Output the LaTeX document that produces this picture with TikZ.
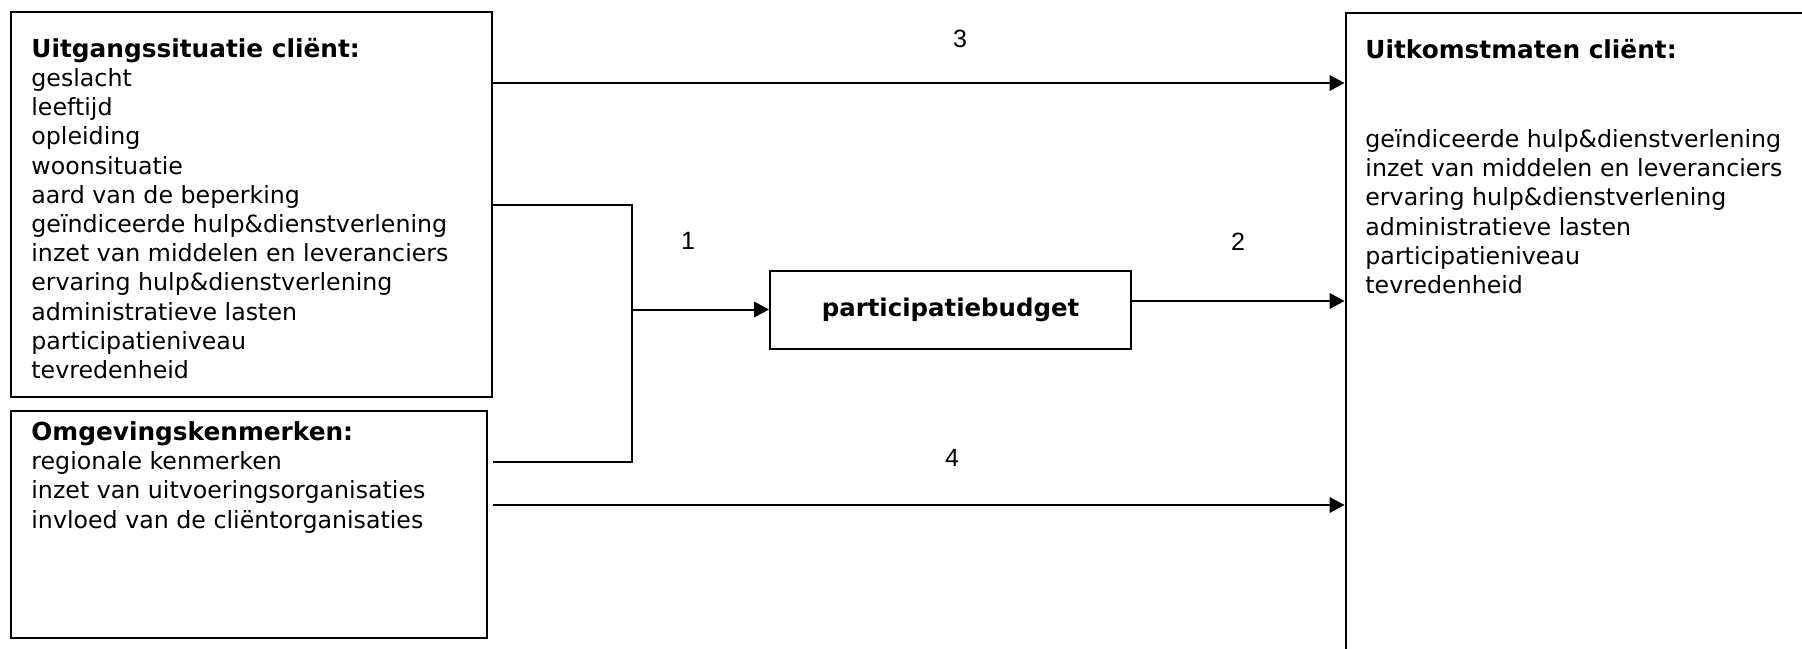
\documentclass[tikz,border=0pt]{standalone}
\usepackage{fontspec}
\setmainfont{DejaVu Sans}
\newfontfamily\numfont{Liberation Sans}
\usetikzlibrary{fit,arrows.meta}
\begin{document}
\begin{tikzpicture}[x=0.5pt,y=-0.5pt,
  box/.style={draw,line width=1pt,inner sep=0pt,rectangle},
  body/.style={anchor=base west,inner sep=0pt,align=left,font=\fontsize{11.85pt}{14.6pt}\selectfont},
  head/.style={anchor=base west,inner sep=0pt,font=\fontsize{12.4pt}{14.6pt}\selectfont\bfseries},
  num/.style={inner sep=0pt,font=\numfont\fontsize{12.5pt}{15pt}\selectfont},
  conn/.style={line width=1pt},
  arr/.style={conn,-{Triangle[length=7.5pt,width=7.8pt]}}]
\path[use as bounding box,clip] (0,0) rectangle (1802,648);
% boxes
\node[box,fit={(11,12) (492,397)}] (b1) {};
\node[box,fit={(11,411) (487,638)}] (b2) {};
\node[box,minimum width=180.5pt,minimum height=39pt,font=\bfseries\fontsize{12.2pt}{14pt}\selectfont] (mid) at (950.5,309.5) {participatiebudget};
\node[box,anchor=north west,minimum width=300pt,minimum height=360pt] (rb) at (1344.5,12) {};
% texts (base anchor = last line's baseline)
\node[head] (t1h) at (31,57.3) {Uitgangssituatie cliënt:};
\node[body] (t1) at (31,378.5) {geslacht\\leeftijd\\opleiding\\woonsituatie\\aard van de beperking\\geïndiceerde hulp\&dienstverlening\\inzet van middelen en leveranciers\\ervaring hulp\&dienstverlening\\administratieve lasten\\participatieniveau\\tevredenheid};
\node[head] (t2h) at (31,440.5) {Omgevingskenmerken:};
\node[body] (t2) at (31,528.1) {regionale kenmerken\\inzet van uitvoeringsorganisaties\\invloed van de cliëntorganisaties};
\node[head] (t3h) at (1365,58) {Uitkomstmaten cliënt:};
\node[body] (t3) at (1365,293.5) {geïndiceerde hulp\&dienstverlening\\inzet van middelen en leveranciers\\ervaring hulp\&dienstverlening\\administratieve lasten\\participatieniveau\\tevredenheid};
% row coordinates
\coordinate (y3) at (0,83);
\coordinate (ytop) at (0,204.5);
\coordinate (y1) at (0,309.5);
\coordinate (y2) at (0,301);
\coordinate (ybot) at (0,461.5);
\coordinate (y4) at (0,505);
\coordinate (jx) at (632,0);
% connectors
\draw[arr] (b1.east |- y3) -- (rb.west |- y3);
\draw[conn] (b1.east |- ytop) -- (jx |- ytop) -- (jx |- ybot) -- (b1.east |- ybot);
\draw[arr] (jx |- y1) -- (mid.west);
\draw[arr] (mid.east |- y2) -- (rb.west |- y2);
\draw[arr] (b1.east |- y4) -- (rb.west |- y4);
% labels
\node[num] (n1) at (688,240.7) {1};
\node[num] (n2) at (1238,241.7) {2};
\node[num] (n3) at (960,39.3) {3};
\node[num] (n4) at (952,458) {4};
\end{tikzpicture}
\end{document}
